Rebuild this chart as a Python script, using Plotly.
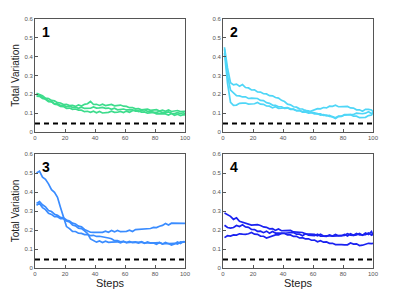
import plotly.graph_objects as go

steps = list(range(1, 100, 2)) + [100]

p1 = [
    [0.205,0.198,0.192,0.180,0.178,0.168,0.165,0.156,0.154,0.146,0.147,0.140,0.142,0.136,0.144,0.138,0.147,0.150,0.162,0.146,0.147,0.141,0.148,0.140,0.142,0.146,0.139,0.140,0.143,0.137,0.136,0.129,0.130,0.123,0.124,0.118,0.120,0.122,0.115,0.117,0.119,0.111,0.116,0.110,0.117,0.109,0.111,0.114,0.108,0.110,0.109],
    [0.200,0.196,0.183,0.177,0.166,0.162,0.148,0.145,0.136,0.135,0.126,0.127,0.120,0.122,0.116,0.116,0.108,0.110,0.104,0.110,0.102,0.109,0.101,0.102,0.104,0.110,0.104,0.105,0.109,0.103,0.111,0.105,0.113,0.116,0.108,0.114,0.118,0.110,0.110,0.104,0.104,0.109,0.103,0.104,0.107,0.099,0.098,0.103,0.098,0.102,0.097],
    [0.190,0.189,0.178,0.174,0.161,0.160,0.150,0.149,0.142,0.142,0.135,0.137,0.131,0.132,0.126,0.132,0.125,0.127,0.126,0.133,0.127,0.128,0.131,0.126,0.127,0.120,0.126,0.118,0.120,0.122,0.117,0.116,0.118,0.111,0.112,0.106,0.107,0.100,0.102,0.104,0.096,0.097,0.095,0.096,0.090,0.098,0.089,0.094,0.087,0.092,0.090],
]
p2 = [
    [0.450,0.340,0.262,0.250,0.254,0.243,0.252,0.236,0.234,0.223,0.224,0.213,0.212,0.203,0.202,0.193,0.192,0.183,0.180,0.168,0.162,0.148,0.144,0.134,0.132,0.123,0.122,0.113,0.112,0.104,0.102,0.096,0.096,0.088,0.090,0.083,0.082,0.076,0.085,0.084,0.092,0.092,0.092,0.093,0.100,0.098,0.097,0.100,0.108,0.098,0.100],
    [0.420,0.260,0.158,0.142,0.143,0.152,0.153,0.154,0.148,0.150,0.150,0.157,0.148,0.147,0.138,0.137,0.128,0.134,0.126,0.127,0.128,0.130,0.123,0.122,0.113,0.114,0.108,0.114,0.106,0.112,0.116,0.124,0.123,0.130,0.128,0.137,0.136,0.142,0.134,0.134,0.136,0.136,0.128,0.127,0.118,0.118,0.110,0.120,0.120,0.117,0.108],
    [0.440,0.300,0.223,0.207,0.193,0.192,0.186,0.187,0.178,0.180,0.180,0.178,0.168,0.167,0.156,0.152,0.143,0.142,0.134,0.134,0.126,0.127,0.120,0.120,0.113,0.114,0.106,0.107,0.100,0.102,0.096,0.097,0.090,0.092,0.086,0.088,0.080,0.072,0.082,0.083,0.090,0.090,0.092,0.084,0.084,0.076,0.077,0.078,0.087,0.090,0.105],
]
p3 = [
    [0.500,0.510,0.478,0.467,0.443,0.412,0.398,0.372,0.318,0.262,0.218,0.207,0.193,0.192,0.183,0.182,0.176,0.177,0.170,0.172,0.166,0.167,0.164,0.165,0.158,0.154,0.144,0.144,0.138,0.140,0.134,0.140,0.133,0.135,0.134,0.136,0.130,0.137,0.131,0.132,0.132,0.133,0.126,0.135,0.128,0.128,0.130,0.126,0.137,0.136,0.140],
    [0.340,0.350,0.333,0.322,0.303,0.297,0.283,0.277,0.266,0.264,0.253,0.247,0.236,0.232,0.220,0.217,0.203,0.197,0.188,0.187,0.186,0.188,0.188,0.194,0.188,0.197,0.190,0.198,0.191,0.192,0.193,0.199,0.192,0.202,0.203,0.204,0.206,0.205,0.208,0.214,0.213,0.220,0.224,0.234,0.226,0.236,0.236,0.234,0.234,0.234,0.235],
    [0.330,0.340,0.318,0.307,0.288,0.282,0.270,0.270,0.260,0.260,0.248,0.242,0.226,0.222,0.210,0.207,0.196,0.182,0.153,0.144,0.136,0.142,0.134,0.141,0.135,0.136,0.136,0.138,0.133,0.140,0.134,0.136,0.135,0.137,0.131,0.138,0.132,0.133,0.131,0.132,0.125,0.134,0.127,0.127,0.129,0.121,0.126,0.137,0.129,0.139,0.136],
]
p4 = [
    [0.290,0.280,0.272,0.256,0.264,0.246,0.242,0.234,0.234,0.226,0.227,0.228,0.224,0.216,0.214,0.206,0.207,0.198,0.205,0.196,0.197,0.198,0.198,0.190,0.190,0.188,0.187,0.180,0.180,0.178,0.177,0.170,0.178,0.168,0.170,0.170,0.168,0.168,0.170,0.170,0.177,0.168,0.180,0.172,0.182,0.174,0.174,0.176,0.184,0.173,0.182],
    [0.225,0.213,0.210,0.213,0.224,0.218,0.227,0.216,0.214,0.203,0.202,0.193,0.194,0.186,0.194,0.183,0.192,0.184,0.184,0.183,0.182,0.174,0.174,0.166,0.167,0.158,0.160,0.153,0.154,0.146,0.147,0.138,0.144,0.136,0.137,0.130,0.130,0.123,0.124,0.123,0.122,0.122,0.132,0.126,0.127,0.118,0.120,0.123,0.130,0.128,0.130],
    [0.160,0.170,0.168,0.174,0.173,0.180,0.178,0.177,0.180,0.187,0.178,0.177,0.168,0.167,0.158,0.164,0.166,0.174,0.174,0.182,0.183,0.184,0.186,0.187,0.178,0.178,0.170,0.180,0.173,0.170,0.170,0.178,0.168,0.167,0.166,0.174,0.168,0.177,0.170,0.170,0.172,0.180,0.173,0.172,0.174,0.182,0.173,0.184,0.176,0.192,0.172],
]
panels = [p1, p2, p3, p4]
panel_labels = ["1", "2", "3", "4"]
colors = ["#3ddc8c", "#4fd6f7", "#3a8cff", "#1a22f0"]
baseline_x = [0, 100]
baseline_y = [0.045, 0.045]

# page body has an 8px margin, so the figure is drawn 8px in from the window corner
OFF = 8
W, H = 399 - OFF, 295 - OFF
xdoms = [[(35 - OFF) / W, (185 - OFF) / W], [(223 - OFF) / W, (373 - OFF) / W]]
ydoms = [[1 - (132 - OFF) / H, 1 - (19 - OFF) / H], [1 - (268 - OFF) / H, 1 - (154 - OFF) / H]]

fig = go.Figure()
layout = dict(
    width=W, height=H, margin=dict(l=0, r=0, t=0, b=0),
    paper_bgcolor="white", plot_bgcolor="white", showlegend=False,
    font=dict(family="Liberation Sans, Arial, sans-serif"),
)
annotations = []
for i, data in enumerate(panels):
    n = i + 1
    xa = "x" if n == 1 else f"x{n}"
    ya = "y" if n == 1 else f"y{n}"
    for s in data:
        fig.add_trace(go.Scatter(x=steps, y=s, mode="lines", xaxis=xa, yaxis=ya,
                                 line=dict(color=colors[i], width=1.7)))
    fig.add_trace(go.Scatter(x=baseline_x, y=baseline_y, mode="lines", xaxis=xa, yaxis=ya,
                             line=dict(color="black", width=2, dash="5px,4px")))
    col = i % 2
    row = i // 2
    axstyle = dict(showline=True, mirror=True, linecolor="#555", linewidth=0.8,
                   ticks="inside", ticklen=3, tickcolor="#555", automargin=False,
                   tickfont=dict(size=6, color="#555"), showgrid=False, zeroline=False)
    layout["xaxis" if n == 1 else f"xaxis{n}"] = dict(
        domain=xdoms[col], range=[0, 100], dtick=20, anchor=ya,
        title=dict(text="Steps", font=dict(size=11, color="#222"), standoff=2) if row == 1 else None,
        **axstyle)
    layout["yaxis" if n == 1 else f"yaxis{n}"] = dict(
        domain=ydoms[row], range=[0, 0.6], dtick=0.1, anchor=xa,
        title=dict(text="Total Variation", font=dict(size=10, color="#222"), standoff=3) if col == 0 else None,
        **axstyle)
    annotations.append(dict(text=f"<b>{panel_labels[i]}</b>", xref=f"{xa} domain", yref=f"{ya} domain",
                            x=0.03, y=0.975, xanchor="left", yanchor="top", showarrow=False,
                            font=dict(size=14, color="black")))
layout["annotations"] = annotations
fig.update_layout(**layout)
fig.write_html("out.html")
